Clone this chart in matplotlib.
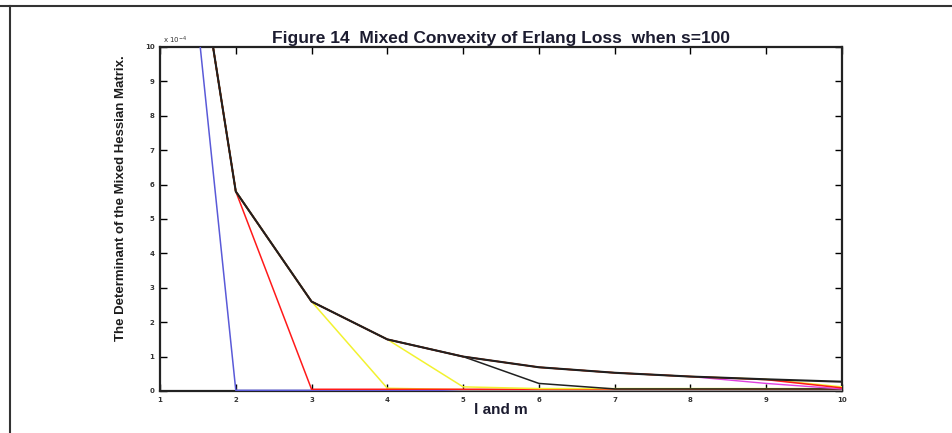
import matplotlib
matplotlib.use("Agg")
import matplotlib.pyplot as plt
from matplotlib.lines import Line2D
from matplotlib import font_manager

# ---- data (values in units of 1e-4) ----
x_vals = [1, 2, 3, 4, 5, 6, 7, 8, 9, 10]
envelope = [19.8, 5.8, 2.6, 1.5, 1.0, 0.69, 0.53, 0.42, 0.34, 0.27]
s_blue = [21.3, 0.02, 0.02, 0.02, 0.02, 0.02, 0.02, 0.02, 0.02, 0.02]
s_yellow3 = [19.8, 5.8, 2.6, 0.08, 0.04, 0.04, 0.04, 0.04, 0.04, 0.04]
s_red = [19.8, 5.8, 0.05, 0.05, 0.05, 0.05, 0.05, 0.05, 0.05, 0.05]
s_yellow4 = [19.8, 5.8, 2.6, 1.5, 0.12, 0.07, 0.07, 0.07, 0.07, 0.07]
s_black5 = [19.8, 5.8, 2.6, 1.5, 1.0, 0.22, 0.06, 0.06, 0.06, 0.06]
s_magenta = [19.8, 5.8, 2.6, 1.5, 1.0, 0.69, 0.53, 0.42, 0.22, 0.06]
s_yellow9 = [19.8, 5.8, 2.6, 1.5, 1.0, 0.69, 0.53, 0.42, 0.34, 0.12]
s_red9 = [19.8, 5.8, 2.6, 1.5, 1.0, 0.69, 0.53, 0.42, 0.33, 0.09]

series = [s_blue, s_yellow3, s_red, s_yellow4, s_black5, s_magenta, s_yellow9, s_red9, envelope]
colors = ["#5a5ad8", "#f2f230", "#ff1a1a", "#f2f230", "#202020", "#e040e0", "#f2f230", "#ff1a1a", "#202020"]
widths = [1.1, 1.1, 1.1, 1.1, 1.1, 1.0, 1.1, 1.1, 1.5]

x_ticks = [1, 2, 3, 4, 5, 6, 7, 8, 9, 10]
y_ticks = [0, 1, 2, 3, 4, 5, 6, 7, 8, 9, 10]

title = "Figure 14  Mixed Convexity of Erlang Loss  when s=100"
ylabel = "The Determinant of the Mixed Hessian Matrix."
xlabel = "l and m"

avail = {f.name for f in font_manager.fontManager.ttflist}
narrow = "Liberation Sans Narrow" if "Liberation Sans Narrow" in avail else "Liberation Sans"

fig = plt.figure(figsize=(9.53, 4.33), dpi=100)
fig.patch.set_facecolor("white")

ax = fig.add_axes([0.1679, 0.0970, 0.7156, 0.7945])
for s, c, w in zip(series, colors, widths):
    ax.plot(x_vals, s, color=c, lw=w, zorder=3)

ax.set_xlim(1, 10)
ax.set_ylim(0, 10)
ax.set_xticks(x_ticks)
ax.set_yticks(y_ticks)
ax.set_xticklabels([str(t) for t in x_ticks], fontsize=5, fontweight="bold", color="#333333")
ax.set_yticklabels([str(t) for t in y_ticks], fontsize=5, fontweight="bold", color="#333333")
ax.tick_params(direction="in", length=5, width=1.0, top=True, right=True, pad=4)
for sp in ax.spines.values():
    sp.set_linewidth(1.6)
    sp.set_color("#222222")
    sp.set_zorder(2)

ax.set_title(title, fontsize=12.5, fontweight="bold", family="Liberation Sans", color="#1c1c30", pad=3)
ax.set_xlabel(xlabel, fontsize=11, fontweight="bold", family="Liberation Sans", color="#1c1c30", labelpad=0)
ax.set_ylabel(ylabel, fontsize=9.5, fontweight="bold", family=narrow, color="#1c1c1c")
ax.yaxis.set_label_coords(-0.048, 0.56)
ax.text(0.005, 1.004, "x 10$^{-4}$", transform=ax.transAxes, fontsize=5, color="#333333",
        ha="left", va="bottom")

# page frame lines
fig.add_artist(Line2D([0, 1], [1 - 6 / 433, 1 - 6 / 433], transform=fig.transFigure, color="#333333", lw=1.5))
fig.add_artist(Line2D([10 / 953, 10 / 953], [0, 1 - 6 / 433], transform=fig.transFigure, color="#333333", lw=1.5))

fig.savefig("out.png", dpi=100)
